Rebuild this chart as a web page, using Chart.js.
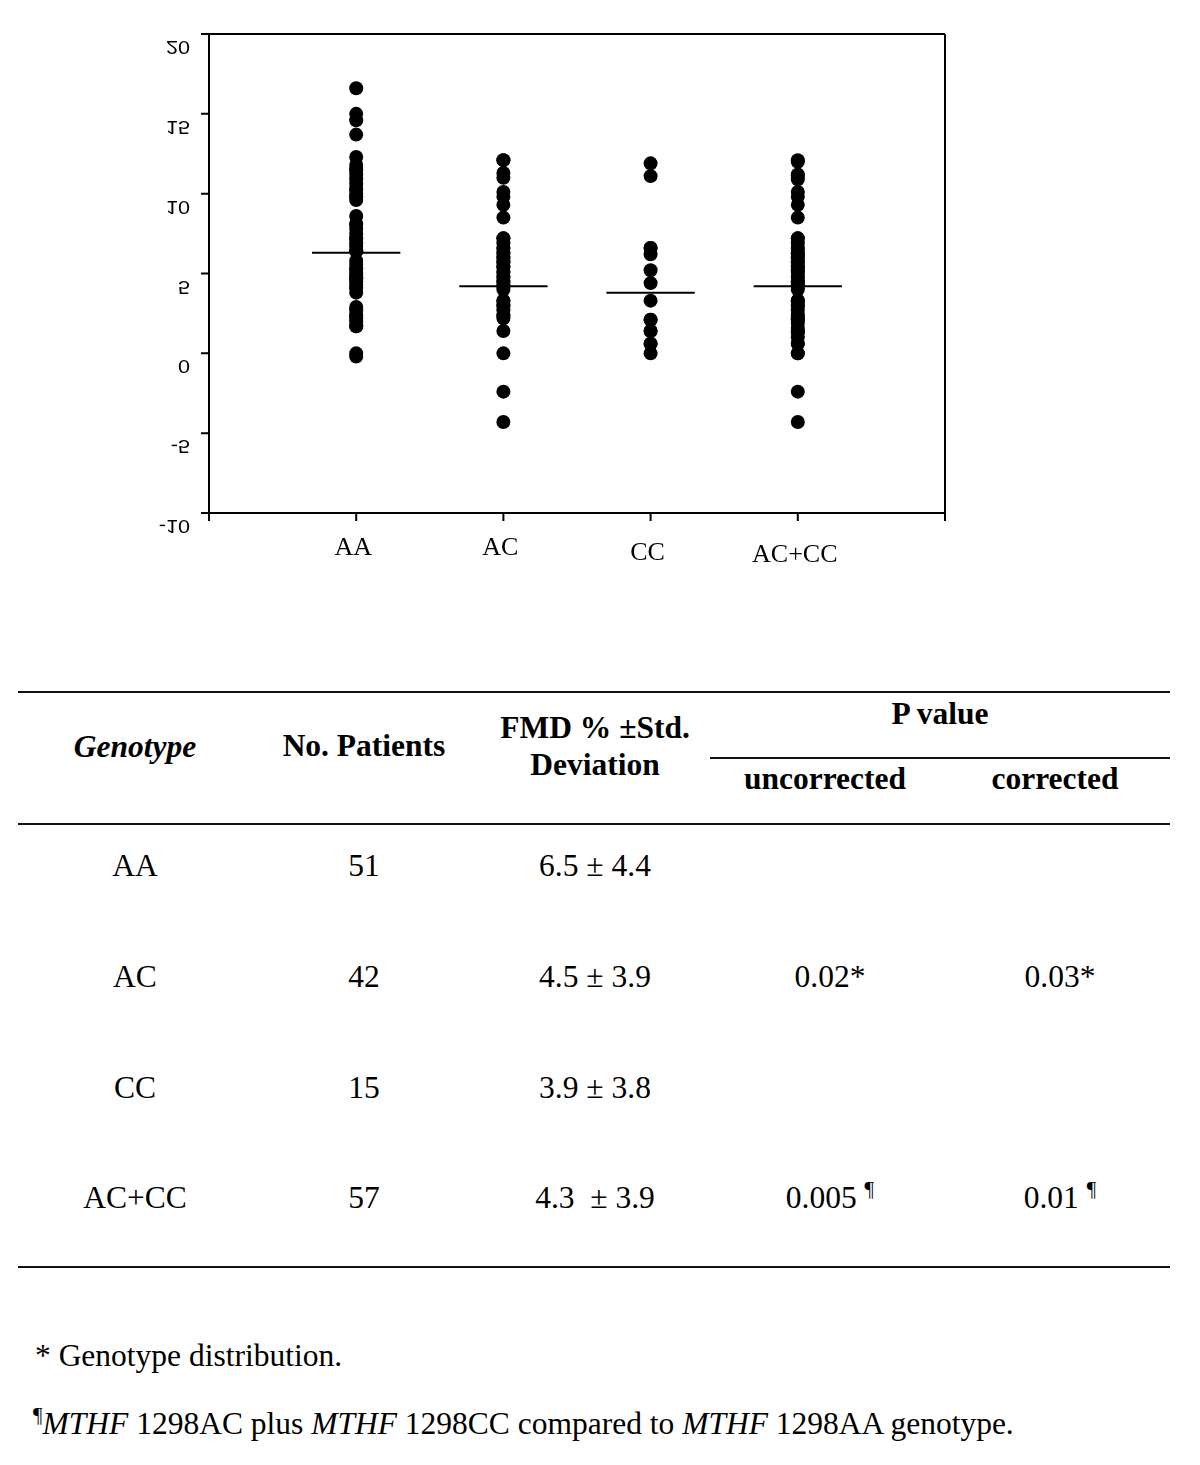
<!DOCTYPE html>
<html>
<head>
<meta charset="utf-8">
<script src="https://cdn.jsdelivr.net/npm/chart.js@4.4.1/dist/chart.umd.min.js"></script>
<style>
  html, body { margin: 0; padding: 0; background: #fff; }
  body { width: 1200px; height: 1465px; position: relative; overflow: hidden;
         font-family: 'Liberation Serif', 'Times New Roman', serif; color: #000; }
  #chartBox { position: absolute; left: 0; top: 0; width: 1200px; height: 600px; }
  .t { position: absolute; width: 300px; text-align: center; font-size: 31.5px; line-height: 32px; white-space: nowrap; }
  .note { position: absolute; font-size: 31.5px; line-height: 32px; white-space: nowrap; }
  .b { font-weight: bold; }
  .rule { position: absolute; height: 0; border-top: 2px solid #111; }
  sup { font-family: 'Liberation Serif', serif; font-size: 21px; vertical-align: 12px; line-height: 0; color: #000; }
</style>
</head>
<body>
<div id="chartBox"><canvas id="chart" width="1200" height="600"></canvas></div>
<div id="table"></div>
<script>
  // chart data
  var categories = ['AA', 'AC', 'CC', 'AC+CC'];
  var aaValues = [16.6, 15.0, 14.6, 13.7, 12.3, 11.8, 11.5, 11.5, 11.2, 10.9, 10.6, 10.3, 10.3,
                  10.0, 9.8, 9.8, 9.6, 8.6, 8.1, 8.1, 7.8, 7.5, 7.2, 7.2, 6.9, 6.7, 6.4, 6.4,
                  5.8, 5.6, 5.3, 5.3, 5.1, 4.9, 4.7, 4.7, 4.5, 4.3, 4.1, 4.1, 3.8, 2.9, 2.7,
                  2.4, 2.4, 2.2, 2.0, 1.7, 1.7, 0.0, -0.2];
  var acValues = [12.1, 12.1, 11.3, 11.0, 10.1, 9.8, 9.3, 8.5, 7.2, 7.2, 6.9, 6.6, 6.6, 6.3, 6.3,
                  6.0, 6.0, 5.7, 5.7, 5.4, 5.4, 5.1, 5.1, 4.8, 4.8, 4.5, 4.5, 4.2, 4.2, 4.0,
                  3.3, 3.3, 3.0, 3.0, 2.7, 2.4, 2.4, 2.2, 1.4, 0.0, -2.4, -4.3];
  var ccValues = [11.9, 11.1, 6.6, 6.6, 6.2, 5.2, 4.4, 3.3, 2.1, 2.1, 1.4, 1.4, 0.6, 0.6, 0.0];
  var acccValues = [12.0, 12.1, 11.2, 11.1, 10.9, 10.1, 9.8, 9.3, 8.5, 7.2, 7.2, 6.9, 6.6, 6.6,
                    6.3, 6.3, 6.2, 6.0, 6.0, 5.7, 5.7, 5.4, 5.4, 5.2, 5.1, 5.1, 4.8, 4.8, 4.5,
                    4.5, 4.4, 4.2, 4.2, 4.0, 3.3, 3.3, 3.3, 3.0, 3.0, 2.7, 2.4, 2.4, 2.2, 2.1,
                    2.1, 1.9, 1.6, 1.4, 1.4, 1.3, 1.0, 0.6, 0.6, 0.0, 0.0, -2.4, -4.3];
  var meanValues = [6.3, 4.2, 3.8, 4.2];
  var yTicks = [-10, -5, 0, 5, 10, 15, 20];
  var xTicks = [0, 1, 2, 3, 4, 5];

  // table text
  var tableGenotypes = ['AA', 'AC', 'CC', 'AC+CC'];
  var tablePatients = ['51', '42', '15', '57'];
  var tableFmd = ['6.5 ± 4.4', '4.5 ± 3.9', '3.9 ± 3.8', '4.3 &nbsp;± 3.9'];
  var tablePUncorrected = ['', '0.02*', '', '0.005 <sup>¶</sup>'];
  var tablePCorrected = ['', '0.03*', '', '0.01 <sup>¶</sup>'];

  // frame, ticks and labels (tick labels come out flipped upside down in the original)
  var axesPlugin = {
    id: 'axesFrame',
    afterDraw: function (chart) {
      var ctx = chart.ctx, a = chart.chartArea;
      var xs = chart.scales.x, ys = chart.scales.y;
      ctx.save();
      ctx.strokeStyle = '#000';
      ctx.lineWidth = 2;
      ctx.beginPath();
      ctx.moveTo(a.left, a.top); ctx.lineTo(a.left, a.bottom);
      ctx.moveTo(a.left, a.top); ctx.lineTo(a.right, a.top);
      ctx.moveTo(a.right, a.top); ctx.lineTo(a.right, a.bottom);
      ctx.moveTo(a.left, a.bottom); ctx.lineTo(a.right, a.bottom);
      yTicks.forEach(function (v) {
        var y = ys.getPixelForValue(v);
        ctx.moveTo(a.left - 8, y); ctx.lineTo(a.left, y);
      });
      xTicks.forEach(function (v) {
        var x = xs.getPixelForValue(v);
        ctx.moveTo(x, a.bottom); ctx.lineTo(x, a.bottom + 8);
      });
      ctx.stroke();

      ctx.fillStyle = '#000';
      ctx.font = '18px "Liberation Sans", Arial, sans-serif';
      ctx.textAlign = 'right';
      ctx.textBaseline = 'middle';
      yTicks.forEach(function (v) {
        var y = ys.getPixelForValue(v);
        ctx.save();
        ctx.translate(a.left - 19, y + 12);
        ctx.scale(1.2, -1);
        ctx.fillText(String(v), 0, 0);
        ctx.restore();
      });

      var drop = [0, 0, 5, 7];
      ctx.font = '26px "Liberation Serif", "Times New Roman", serif';
      ctx.textAlign = 'center';
      categories.forEach(function (c, i) {
        ctx.fillText(c, xs.getPixelForValue(i + 1) - 3, a.bottom + 35 + drop[i]);
      });
      ctx.restore();
    }
  };

  var pointSets = [aaValues, acValues, ccValues, acccValues];
  var datasets = pointSets.map(function (vals, i) {
    return {
      type: 'scatter',
      data: vals.map(function (v) { return { x: i + 1, y: v }; }),
      pointRadius: 7,
      pointBackgroundColor: '#000',
      pointBorderWidth: 0
    };
  });
  meanValues.forEach(function (m, i) {
    datasets.push({
      type: 'line',
      data: [{ x: i + 0.7, y: m }, { x: i + 1.3, y: m }],
      borderColor: '#000',
      borderWidth: 2,
      pointRadius: 0,
      fill: false
    });
  });

  new Chart(document.getElementById('chart').getContext('2d'), {
    type: 'scatter',
    data: { datasets: datasets },
    options: {
      responsive: false,
      animation: false,
      devicePixelRatio: 1,
      layout: { padding: { left: 209, right: 255, top: 34, bottom: 87 } },
      plugins: { legend: { display: false }, tooltip: { enabled: false } },
      scales: {
        x: { type: 'linear', min: 0, max: 5, display: false },
        y: { type: 'linear', min: -10, max: 20, display: false }
      }
    },
    plugins: [axesPlugin]
  });

  // table below the chart
  var box = document.getElementById('table');
  function put(html, cx, cy, cls) {
    var d = document.createElement('div');
    d.className = 't' + (cls ? ' ' + cls : '');
    d.style.left = (cx - 150) + 'px';
    d.style.top = (cy - 16) + 'px';
    d.innerHTML = html;
    box.appendChild(d);
  }
  function rule(x1, x2, y) {
    var d = document.createElement('div');
    d.className = 'rule';
    d.style.left = x1 + 'px';
    d.style.width = (x2 - x1) + 'px';
    d.style.top = (y - 1) + 'px';
    box.appendChild(d);
  }
  function note(html, x, cy) {
    var d = document.createElement('div');
    d.className = 'note';
    d.style.left = x + 'px';
    d.style.top = (cy - 16) + 'px';
    d.innerHTML = html;
    box.appendChild(d);
  }

  var colX = [135, 364, 595, 825, 1055];
  var rowY = [866, 977, 1088, 1198];

  rule(18, 1170, 692);
  rule(710, 1170, 758);
  rule(18, 1170, 824);
  rule(18, 1170, 1267);

  put('<i>Genotype</i>', colX[0], 747, 'b');
  put('No. Patients', colX[1], 746, 'b');
  put('FMD % ±Std.', colX[2], 728, 'b');
  put('Deviation', colX[2], 765, 'b');
  put('P value', 940, 714, 'b');
  put('uncorrected', colX[3], 779, 'b');
  put('corrected', colX[4], 779, 'b');

  tableGenotypes.forEach(function (g, i) {
    put(g, colX[0], rowY[i]);
    put(tablePatients[i], colX[1], rowY[i]);
    put(tableFmd[i], colX[2], rowY[i]);
    if (tablePUncorrected[i]) put(tablePUncorrected[i], colX[3] + 5, rowY[i]);
    if (tablePCorrected[i]) put(tablePCorrected[i], colX[4] + 5, rowY[i]);
  });

  note('* Genotype distribution.', 35, 1356);
  note('<sup>¶</sup><i>MTHF</i> 1298AC plus <i>MTHF</i> 1298CC compared to <i>MTHF</i> 1298AA genotype.', 33, 1424);
</script>
</body>
</html>
